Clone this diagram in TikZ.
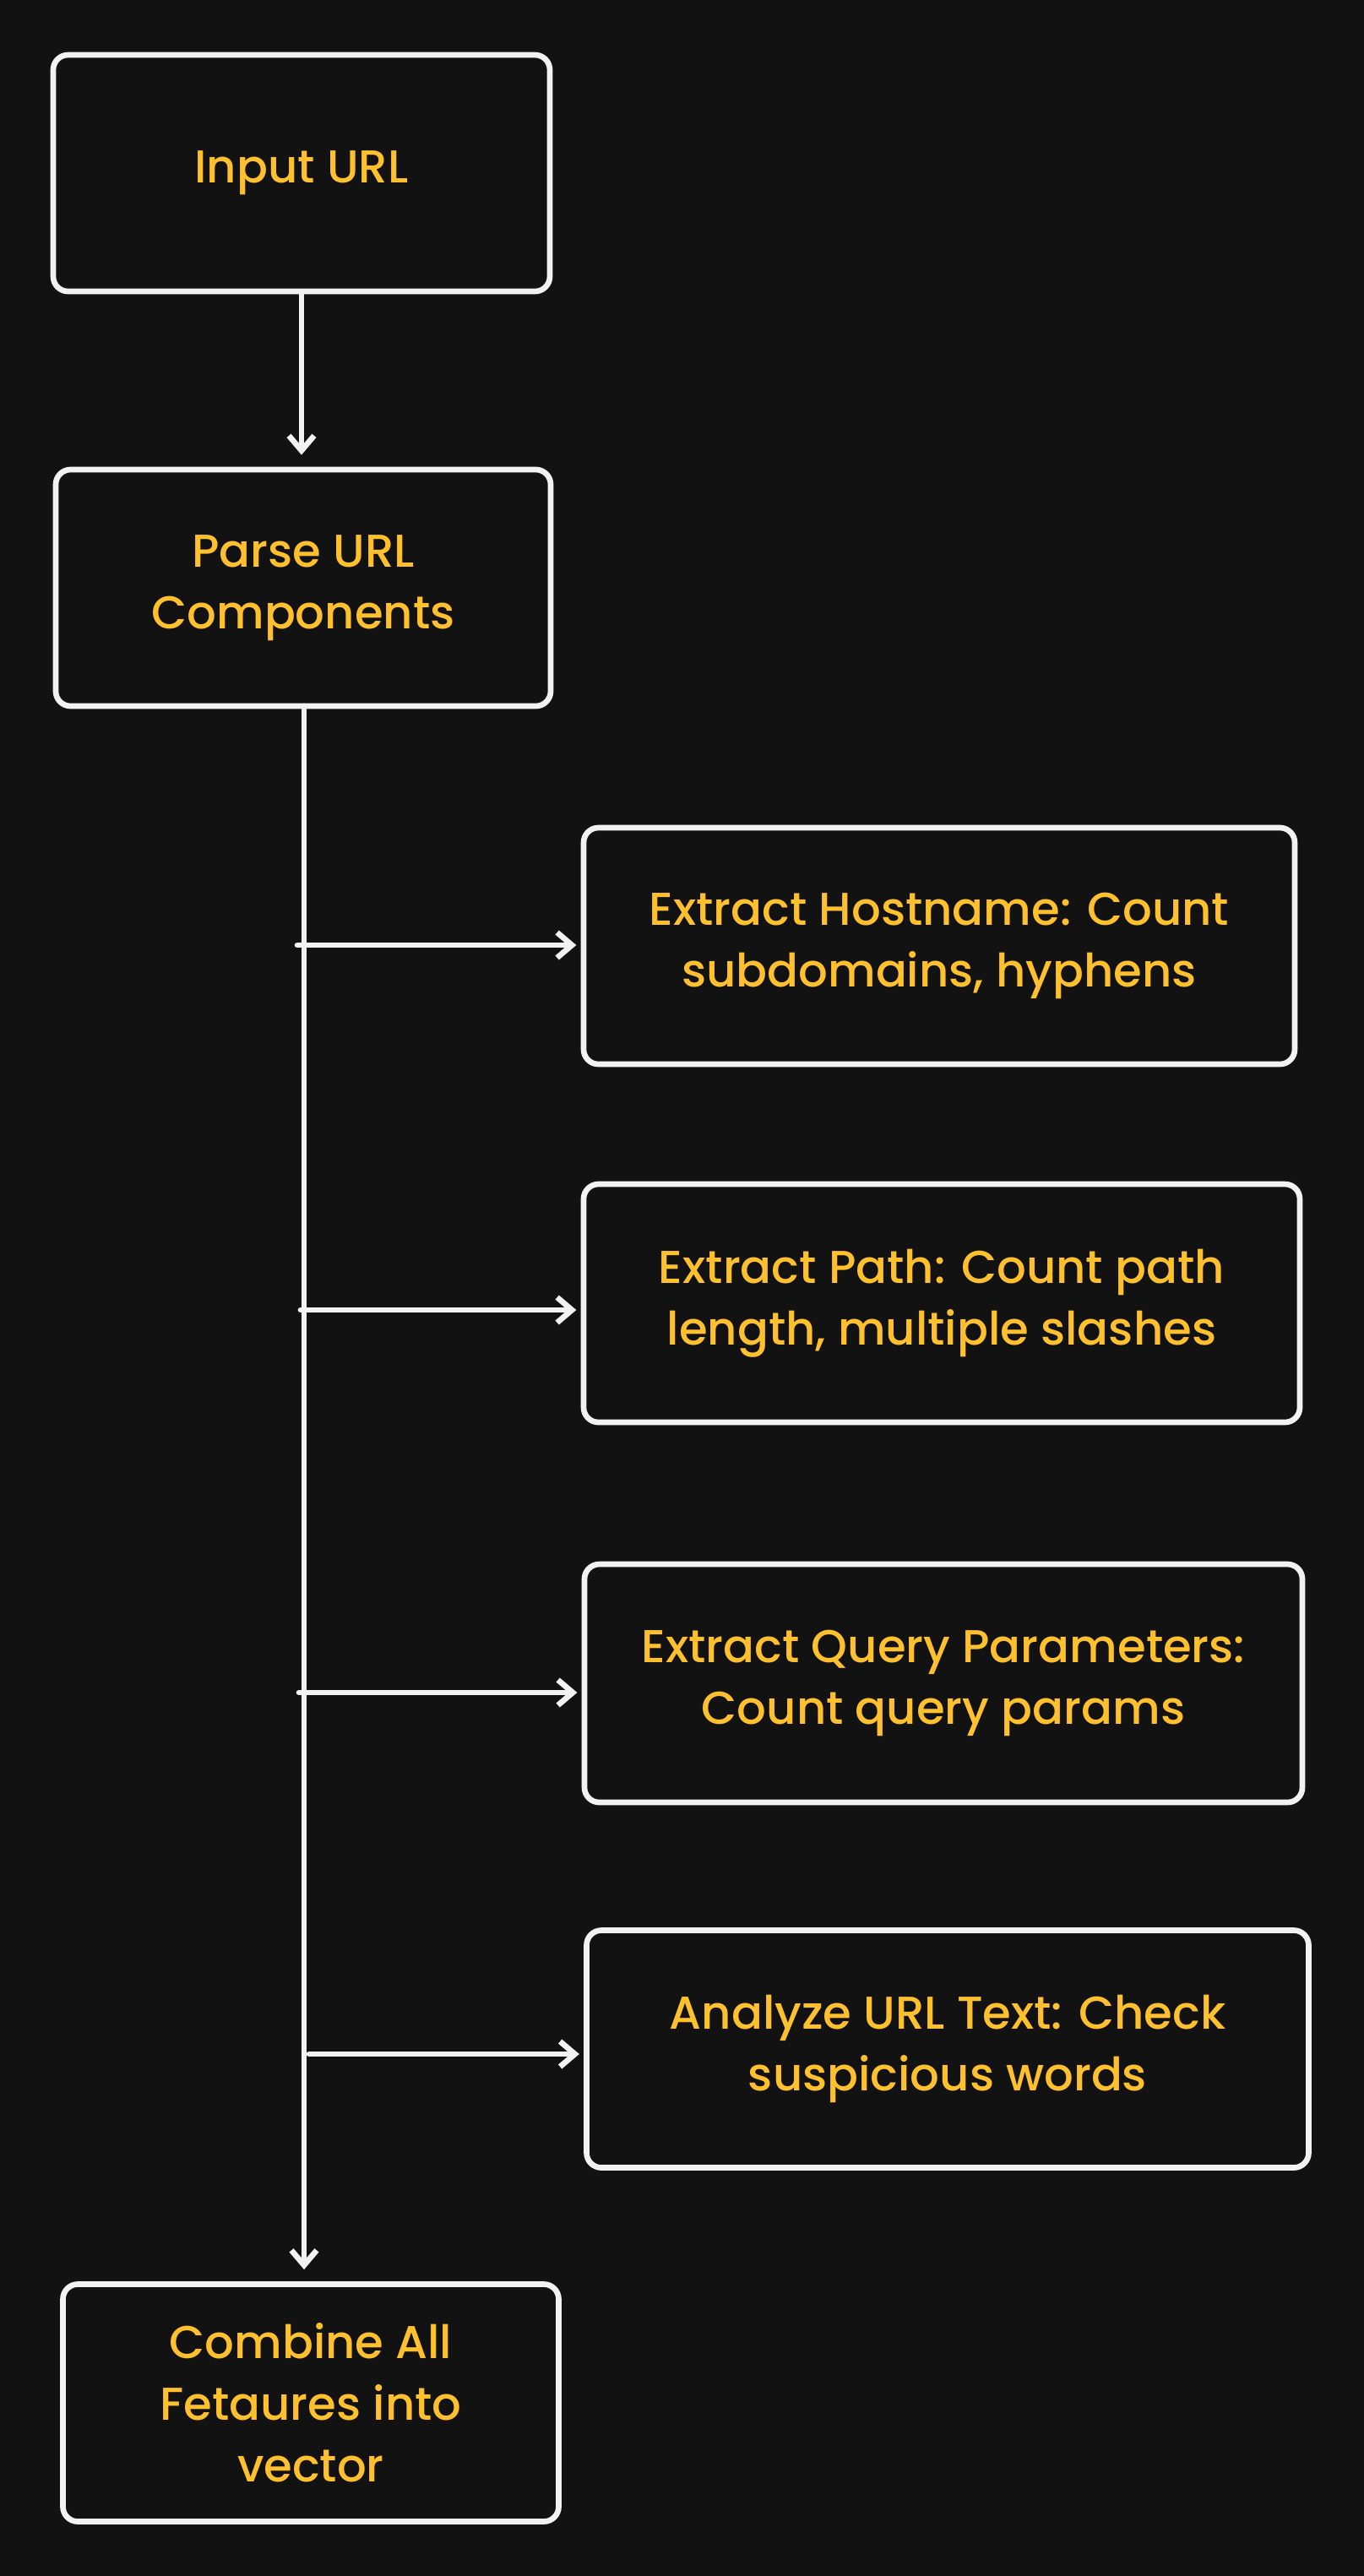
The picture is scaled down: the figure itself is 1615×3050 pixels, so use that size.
\documentclass[tikz,border=0pt]{standalone}
\usepackage{fontspec}
\setmainfont{Poppins}[UprightFont=*-Medium]
\usetikzlibrary{arrows.meta}
\definecolor{bg}{HTML}{121212}
\definecolor{ln}{HTML}{F2F2F2}
\definecolor{tx}{HTML}{FFC02E}
\tikzset{
  box/.style={draw=ln, line width=1.9pt, rounded corners=5pt, fill=bg, text=tx,
    align=center, inner sep=0pt, font=\fontsize{15.5}{20.8}\selectfont},
  arr/.style={draw=ln, line width=1.9pt, line cap=round,
    -{Straight Barb[length=5pt,width=8.5pt,line width=1.9pt]}},
  gap/.style={shorten >=4pt},
  gapb/.style={shorten >=1.5pt}
}
\begin{document}
\begin{tikzpicture}[x=0.01cm,y=-0.01cm]
\useasboundingbox[fill=bg] (0,0) rectangle (1615,3050);
\node[box, minimum width=588*0.01cm, minimum height=280*0.01cm] (in) at (357,205) {Input URL};
\node[box, minimum width=586*0.01cm, minimum height=280*0.01cm] (parse) at (359,696) {Parse URL\\Components};
\node[box, minimum width=842*0.01cm, minimum height=280*0.01cm] (host) at (1112,1120) {Extract Hostname: Count\\subdomains, hyphens};
\node[box, minimum width=848*0.01cm, minimum height=282*0.01cm] (path) at (1115,1543) {Extract Path: Count path\\length, multiple slashes};
\node[box, minimum width=850*0.01cm, minimum height=282*0.01cm] (query) at (1117,1993) {Extract Query Parameters:\\Count query params};
\node[box, minimum width=855*0.01cm, minimum height=281*0.01cm] (ana) at (1122,2426) {Analyze URL Text: Check\\suspicious words};
\node[box, minimum width=587*0.01cm, minimum height=281*0.01cm] (comb) at (368,2845) {Combine All\\Fetaures into\\vector};
\coordinate (top) at (360,836);
\coordinate (b1) at (352,1119);
\coordinate (b2) at (356,1551);
\coordinate (b3) at (354,2004);
\coordinate (b4) at (366,2432);
\draw[arr, gap] (in.south) -- (in.south |- parse.north);
\draw[arr, gap] (top) -- (top |- comb.north);
\draw[arr, gapb] (b1) -- (b1 -| host.west);
\draw[arr, gapb] (b2) -- (b2 -| path.west);
\draw[arr, gapb] (b3) -- (b3 -| query.west);
\draw[arr, gapb] (b4) -- (b4 -| ana.west);
\end{tikzpicture}
\end{document}
